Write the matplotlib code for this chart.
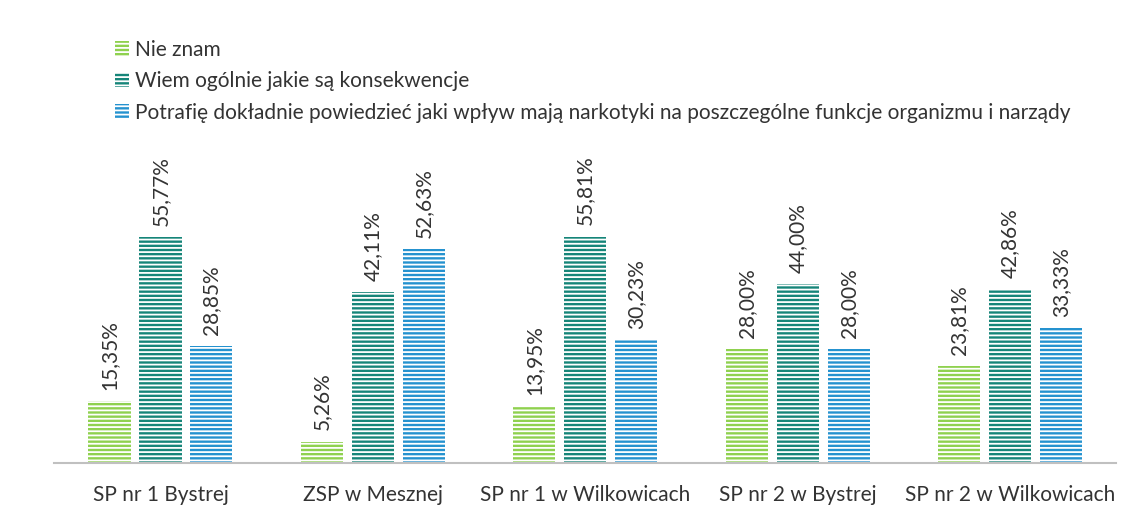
import numpy as np
import matplotlib.pyplot as plt

# Data
categories = ['SP nr 1 Bystrej', 'ZSP w Mesznej', 'SP nr 1 w Wilkowicach',
              'SP nr 2 w Bystrej', 'SP nr 2 w Wilkowicach']
series_names = ['Nie znam',
                'Wiem ogólnie jakie są konsekwencje',
                'Potrafię dokładnie powiedzieć jaki wpływ mają narkotyki na poszczególne funkcje organizmu i narządy']
nie_znam = [15.35, 5.26, 13.95, 28.00, 23.81]
wiem_ogolnie = [55.77, 42.11, 55.81, 44.00, 42.86]
potrafie = [28.85, 52.63, 30.23, 28.00, 33.33]
colors = ['#8fd14f', '#168579', '#2592cf']

plt.rcParams['font.family'] = ['Lato', 'DejaVu Sans']
plt.rcParams['hatch.linewidth'] = 1.3

fig = plt.figure(figsize=(11.31, 5.29), dpi=100)
ax = fig.add_axes([0.048, 0.125, 0.939, 0.46])

x = np.arange(len(categories))
width = 0.198
step = 0.24

for i, (vals, col, name) in enumerate(zip([nie_znam, wiem_ogolnie, potrafie], colors, series_names)):
    pos = x + (i - 1) * step
    ax.bar(pos, vals, width, color=col, edgecolor='white', linewidth=0,
           hatch='----', label=name)
    for px, v in zip(pos, vals):
        ax.annotate(f'{v:.2f}%'.replace('.', ','), (px, v), xytext=(0, 8),
                    textcoords='offset points', rotation=90, ha='center',
                    va='bottom', fontsize=15, color='#333333')

ax.set_xlim(-0.5, len(categories) - 0.5)
ax.set_ylim(0, 60)
ax.set_xticks(x)
ax.set_xticklabels(categories, fontsize=15, color='#333333')
ax.tick_params(axis='x', length=0, pad=16)
ax.set_yticks([])
for s in ['top', 'right', 'left']:
    ax.spines[s].set_visible(False)
ax.spines['bottom'].set_color('#c0c0c0')
ax.spines['bottom'].set_linewidth(1.5)

fig.legend(loc='upper left', bbox_to_anchor=(0.085, 0.96), frameon=False,
           fontsize=15, handlelength=0.7, handleheight=0.7, handletextpad=0.25,
           labelspacing=0.55, labelcolor='#333333')

fig.savefig('out.png', dpi=100)
